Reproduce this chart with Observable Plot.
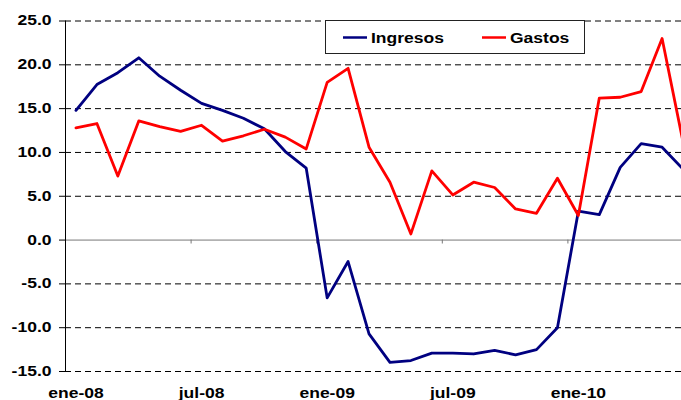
<!DOCTYPE html>
<html><head><meta charset="utf-8">
<script src="https://cdn.jsdelivr.net/npm/d3@7"></script>
<script src="https://cdn.jsdelivr.net/npm/@observablehq/plot@0.6"></script>
<style>
html,body{margin:0;padding:0;background:#fff;overflow:hidden;}
#chart{position:relative;width:681px;height:400px;overflow:hidden;}
</style></head><body><div id="chart"></div>
<script>
const months = [
  "ene-08","feb-08","mar-08","abr-08","may-08","jun-08","jul-08","ago-08","sep-08","oct-08","nov-08","dic-08",
  "ene-09","feb-09","mar-09","abr-09","may-09","jun-09","jul-09","ago-09","sep-09","oct-09","nov-09","dic-09",
  "ene-10","feb-10","mar-10","abr-10","may-10","jun-10"
];
const tickLabels = ["ene-08","jul-08","ene-09","jul-09","ene-10"];
const ingresos = [14.8, 17.75, 19.1, 20.8, 18.7, 17.1, 15.6, 14.8, 13.9, 12.7, 10.1, 8.2,
  -6.6, -2.45, -10.7, -13.95, -13.75, -12.9, -12.9, -13.0, -12.6, -13.1, -12.5, -10.0,
  3.3, 2.9, 8.3, 11.0, 10.6, 8.1];
const gastos = [12.8, 13.3, 7.3, 13.6, 12.95, 12.4, 13.1, 11.3, 11.9, 12.65, 11.75, 10.4,
  18.0, 19.6, 10.6, 6.6, 0.7, 7.9, 5.15, 6.6, 6.0, 3.55, 3.05, 7.05,
  2.8, 16.2, 16.3, 16.95, 23.0, 11.2];
const seriesNames = ["Ingresos", "Gastos"];
const seriesColors = ["#000080", "#FF0000"];
const yTicks = [-15, -10, -5, 0, 5, 10, 15, 20, 25];

const seriesValues = [ingresos, gastos];
const rows = seriesNames.flatMap((s, k) => seriesValues[k].map((v, i) => ({i, serie: s, v})));
const labelIdx = tickLabels.map(l => months.indexOf(l));
const boundaries = labelIdx.filter(i => i > 0).map(i => i - 0.5);

const plot = Plot.plot({
  width: 681, height: 400,
  marginTop: 20.5, marginBottom: 29, marginLeft: 65, marginRight: -12,
  style: {fontFamily: "'Liberation Sans', Arial, sans-serif", fontSize: "14px", fontWeight: "bold", color: "#000", background: "#fff", overflow: "hidden"},
  x: {type: "linear", domain: [-0.5, months.length - 0.5]},
  y: {domain: [yTicks[0], yTicks[yTicks.length - 1]]},
  color: {domain: seriesNames, range: seriesColors},
  marks: [
    Plot.ruleY(yTicks.filter(d => d !== 0), {stroke: "#000", strokeDasharray: "6,4", strokeWidth: 1}),
    Plot.ruleY([0], {stroke: "#777", strokeWidth: 1}),
    Plot.ruleX(boundaries, {y1: () => 0, y2: () => -0.45, stroke: "#777"}),
    Plot.ruleX([-0.5], {stroke: "#000", strokeWidth: 1}),
    Plot.axisY({ticks: yTicks, tickSize: 6, tickPadding: 8, tickFormat: d => d.toFixed(1), label: null, stroke: "#000"}),
    Plot.axisX({ticks: labelIdx, tickFormat: i => months[i], tickSize: 0, tickPadding: 17, label: null}),
    Plot.line(rows, {x: "i", y: "v", z: "serie", stroke: "serie", strokeWidth: 2.8})
  ]
});
document.getElementById("chart").appendChild(plot);

// legend box
const svg = d3.select(plot);
const lg = svg.append("g").attr("text-anchor", "start");
lg.append("rect").attr("x", 325.5).attr("y", 20.5).attr("width", 259).attr("height", 33)
  .attr("fill", "#fff").attr("stroke", "#222").attr("stroke-width", 1);
const legendX = [343, 482];
seriesNames.forEach((s, k) => {
  lg.append("line").attr("x1", legendX[k]).attr("x2", legendX[k] + 24).attr("y1", 37.5).attr("y2", 37.5)
    .attr("stroke", seriesColors[k]).attr("stroke-width", 2.5);
  lg.append("text").attr("x", legendX[k] + 28).attr("y", 42.7).attr("text-anchor", "start").text(s)
    .attr("fill", "#000").style("font-size", "14px").style("font-weight", "bold");
});

// horizontal stretch of text as in the original
plot.querySelectorAll("text").forEach(t => {
  const L = t.getComputedTextLength();
  if (L > 0) { t.setAttribute("textLength", (L * 1.25).toFixed(1)); t.setAttribute("lengthAdjust", "spacingAndGlyphs"); }
});
</script></body></html>
